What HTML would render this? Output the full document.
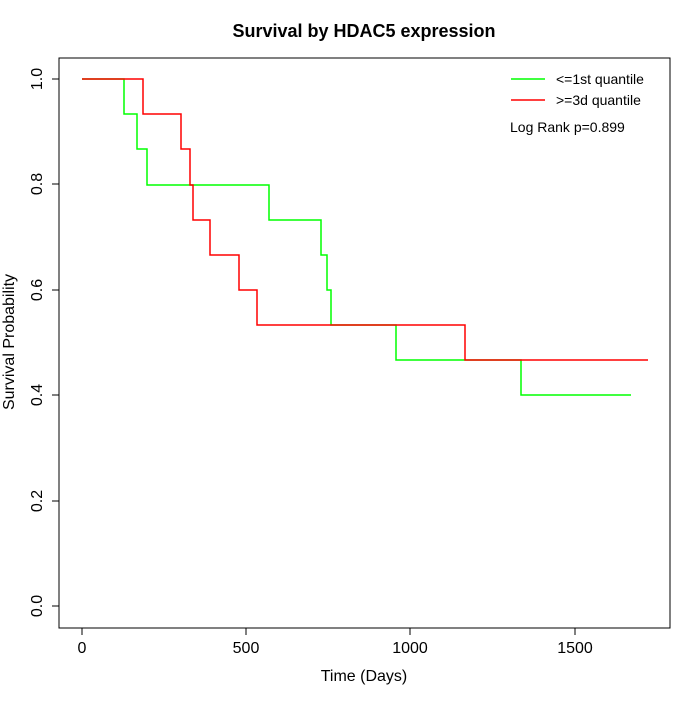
<!DOCTYPE html>
<html><head><style>body{margin:0;background:#fff}</style></head><body>
<svg width="700" height="700" xmlns="http://www.w3.org/2000/svg" font-family="Liberation Sans, sans-serif">
<rect width="700" height="700" fill="#fff"/>
<text x="364" y="37" text-anchor="middle" font-size="18" font-weight="bold">Survival by HDAC5 expression</text>
<rect x="59" y="58" width="611" height="570" fill="none" stroke="#000"/>
<g stroke="#000">
<line x1="82" y1="628" x2="575" y2="628"/>
<line x1="82" y1="628" x2="82" y2="635"/><line x1="246" y1="628" x2="246" y2="635"/>
<line x1="410" y1="628" x2="410" y2="635"/><line x1="575" y1="628" x2="575" y2="635"/>
<line x1="59" y1="79" x2="59" y2="606"/>
<line x1="52" y1="79" x2="59" y2="79"/><line x1="52" y1="184" x2="59" y2="184"/>
<line x1="52" y1="290" x2="59" y2="290"/><line x1="52" y1="395" x2="59" y2="395"/>
<line x1="52" y1="501" x2="59" y2="501"/><line x1="52" y1="606" x2="59" y2="606"/>
</g>
<g font-size="16" text-anchor="middle">
<text x="82" y="653">0</text><text x="246" y="653">500</text><text x="410" y="653">1000</text><text x="575" y="653">1500</text>
<text x="364" y="681">Time (Days)</text>
</g>
<g font-size="16" text-anchor="middle">
<text transform="translate(42,79) rotate(-90)">1.0</text>
<text transform="translate(42,184) rotate(-90)">0.8</text>
<text transform="translate(42,290) rotate(-90)">0.6</text>
<text transform="translate(42,395) rotate(-90)">0.4</text>
<text transform="translate(42,501) rotate(-90)">0.2</text>
<text transform="translate(42,606) rotate(-90)">0.0</text>
<text transform="translate(14,342) rotate(-90)">Survival Probability</text>
</g>
<polyline fill="none" stroke="#00ff00" stroke-width="1.5" points="82,79 124,79 124,114 137,114 137,149 147,149 147,185 269,185 269,220 321,220 321,255 327,255 327,290 331,290 331,325 396,325 396,360 521,360 521,395 631,395"/>
<polyline fill="none" stroke="#ff0000" stroke-width="1.5" points="82,79 143,79 143,114 181,114 181,149 190,149 190,185 193,185 193,220 210,220 210,255 239,255 239,290 257,290 257,325 465,325 465,360 648,360"/>
<line x1="511" y1="79" x2="545" y2="79" stroke="#00ff00" stroke-width="1.5"/>
<line x1="511" y1="100" x2="545" y2="100" stroke="#ff0000" stroke-width="1.5"/>
<g font-size="14"><text x="556" y="84">&lt;=1st quantile</text><text x="556" y="105">&gt;=3d quantile</text>
<text x="510" y="132">Log Rank p=0.899</text></g>
</svg>
</body></html>
